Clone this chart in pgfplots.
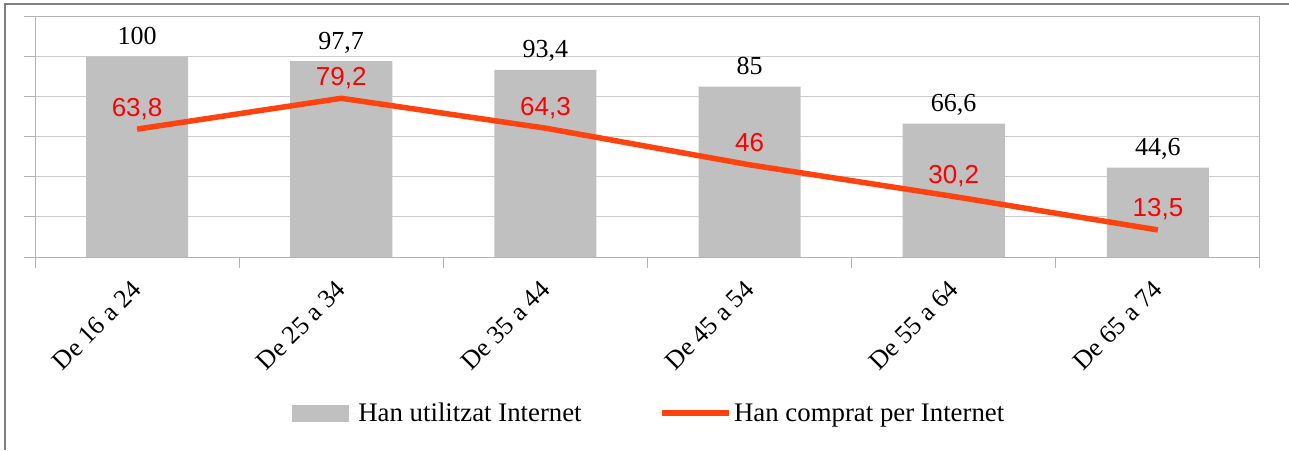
\documentclass[border=0pt]{standalone}
\usepackage{fontspec}
\setmainfont{Liberation Serif}
\newfontfamily\lsans{Liberation Sans}
\usepackage{pgfplots}
\pgfplotsset{compat=1.18}
\definecolor{barg}{HTML}{C0C0C0}
\definecolor{lineor}{HTML}{FF420E}
\definecolor{labred}{HTML}{FF0000}
\definecolor{gridg}{HTML}{CCCCCC}
\definecolor{axg}{HTML}{B3B3B3}
\definecolor{frameg}{HTML}{808080}
\begin{document}
\begin{tikzpicture}[x=1pt,y=1pt]
\useasboundingbox (0,0) rectangle (1289,-450);
\draw[frameg, line width=1.5pt] (5,-450) -- (5,-4) -- (1289,-4);
\begin{axis}[
  at={(35pt,-257pt)}, anchor=south west,
  width=1225pt, height=240.5pt, scale only axis,
  xmin=-0.5, xmax=5.5, ymin=0, ymax=120,
  xtick={-0.5,0.5,1.5,2.5,3.5,4.5,5.5},
  x tick label as interval,
  xticklabels={De 16 a 24, De 25 a 34, De 35 a 44, De 45 a 54, De 55 a 64, De 65 a 74},
  ytick={0,20,...,120}, yticklabels={},
  ymajorgrids, major grid style={gridg, line width=1pt},
  axis line style={axg, line width=1pt},
  tick style={axg, line width=1pt},
  tick align=outside, major tick length=11pt,
  xtick pos=bottom, ytick pos=left,
  font=\fontsize{26pt}{30pt}\selectfont,
  xticklabel style={rotate=45, anchor=east, inner sep=0pt},
  xticklabel shift=17pt,
  /pgf/number format/.cd, use comma, fixed, precision=1, assume math mode=true,
  /pgfplots/.cd,
  clip=false,
  legend style={at={(0.5015,-0.649)}, anchor=center, draw=none, fill=none,
    legend columns=2, font=\fontsize{26.8pt}{30pt}\selectfont,
    /tikz/every even column/.append style={column sep=76pt}},
]
\addplot[fill=barg, draw=none, ybar, bar width=0.5,
  nodes near coords,
  nodes near coords style={anchor=base, inner sep=0pt, yshift=12pt, text=black},
  legend image code/.code={\fill[barg] (0pt,-8.5pt) rectangle (57pt,8.5pt); \path (0pt,0pt) -- (64pt,0pt);}]
  coordinates {(0,100) (1,97.7) (2,93.4) (3,85) (4,66.6) (5,44.6)};
\addlegendentry{Han utilitzat Internet}
\addplot[lineor, line width=5.5pt, line join=round, mark=none,
  nodes near coords,
  nodes near coords style={anchor=base, inner sep=0pt, yshift=13pt, text=labred,
    font=\lsans\fontsize{26pt}{30pt}\selectfont},
  legend image code/.code={\draw[lineor, line width=5.5pt] (0pt,0pt) -- (60pt,0pt); \path (0pt,0pt) -- (67pt,0pt);}]
  coordinates {(0,63.8) (1,79.2) (2,64.3) (3,46) (4,30.2) (5,13.5)};
\addlegendentry{Han comprat per Internet}
\end{axis}
\end{tikzpicture}
\end{document}
